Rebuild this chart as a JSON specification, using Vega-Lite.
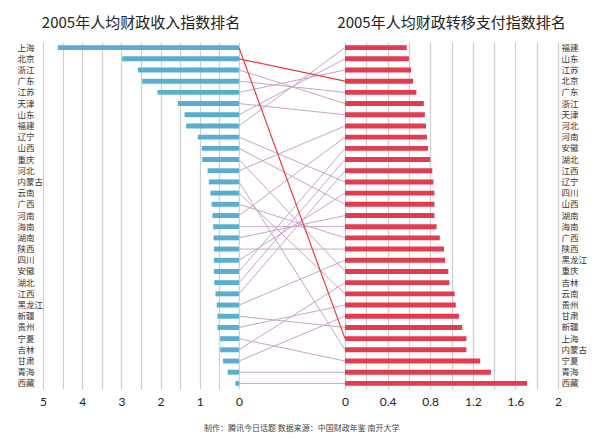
{
  "$schema": "https://vega.github.io/schema/vega-lite/v6.json",
  "padding": {"left": 17, "top": 16, "right": 5, "bottom": 5},
  "background": "white",
  "config": {
    "view": {"stroke": null},
    "font": "Noto Sans CJK SC",
    "axis": {"labelFont": "Noto Sans CJK SC", "labelColor": "#333"}
  },
  "data": {
    "values": [
      {"p": "上海", "a": 4.62, "b": 1.14, "r1": 1, "r2": 27},
      {"p": "北京", "a": 2.98, "b": 0.64, "r1": 2, "r2": 4},
      {"p": "浙江", "a": 2.58, "b": 0.74, "r1": 3, "r2": 6},
      {"p": "广东", "a": 2.47, "b": 0.67, "r1": 4, "r2": 5},
      {"p": "江苏", "a": 2.08, "b": 0.62, "r1": 5, "r2": 3},
      {"p": "天津", "a": 1.56, "b": 0.75, "r1": 6, "r2": 7},
      {"p": "山东", "a": 1.39, "b": 0.60, "r1": 7, "r2": 2},
      {"p": "福建", "a": 1.35, "b": 0.58, "r1": 8, "r2": 1},
      {"p": "辽宁", "a": 1.05, "b": 0.83, "r1": 9, "r2": 13},
      {"p": "山西", "a": 0.95, "b": 0.84, "r1": 10, "r2": 15},
      {"p": "重庆", "a": 0.94, "b": 0.97, "r1": 11, "r2": 21},
      {"p": "河北", "a": 0.80, "b": 0.76, "r1": 12, "r2": 8},
      {"p": "内蒙古", "a": 0.77, "b": 1.14, "r1": 13, "r2": 28},
      {"p": "云南", "a": 0.73, "b": 1.03, "r1": 14, "r2": 23},
      {"p": "广西", "a": 0.70, "b": 0.89, "r1": 15, "r2": 18},
      {"p": "河南", "a": 0.68, "b": 0.77, "r1": 16, "r2": 9},
      {"p": "海南", "a": 0.66, "b": 0.86, "r1": 17, "r2": 17},
      {"p": "湖南", "a": 0.65, "b": 0.84, "r1": 18, "r2": 16},
      {"p": "陕西", "a": 0.64, "b": 0.93, "r1": 19, "r2": 19},
      {"p": "四川", "a": 0.64, "b": 0.84, "r1": 20, "r2": 14},
      {"p": "安徽", "a": 0.64, "b": 0.78, "r1": 21, "r2": 10},
      {"p": "湖北", "a": 0.63, "b": 0.80, "r1": 22, "r2": 11},
      {"p": "江西", "a": 0.60, "b": 0.82, "r1": 23, "r2": 12},
      {"p": "黑龙江", "a": 0.57, "b": 0.94, "r1": 24, "r2": 20},
      {"p": "新疆", "a": 0.55, "b": 1.10, "r1": 25, "r2": 26},
      {"p": "贵州", "a": 0.55, "b": 1.04, "r1": 26, "r2": 24},
      {"p": "宁夏", "a": 0.48, "b": 1.27, "r1": 27, "r2": 29},
      {"p": "吉林", "a": 0.48, "b": 0.98, "r1": 28, "r2": 22},
      {"p": "甘肃", "a": 0.41, "b": 1.07, "r1": 29, "r2": 25},
      {"p": "青海", "a": 0.29, "b": 1.37, "r1": 30, "r2": 30},
      {"p": "西藏", "a": 0.09, "b": 1.71, "r1": 31, "r2": 31}
    ]
  },
  "title": {
    "text": "制作：腾讯今日话题 数据来源：中国财政年鉴 南开大学",
    "orient": "bottom",
    "anchor": "middle",
    "fontSize": 8,
    "fontWeight": "normal",
    "color": "#444",
    "offset": 18
  },
  "bounds": "flush",
  "spacing": 0,
  "hconcat": [
    {
      "width": 196,
      "height": 347,
      "title": {"text": "2005年人均财政收入指数排名", "fontSize": 15, "fontWeight": "normal", "color": "#222", "offset": 11},
      "mark": {"type": "bar", "color": "#5aadd0"},
      "encoding": {
        "y": {
          "field": "p", "type": "nominal",
          "sort": {"field": "r1", "op": "min", "order": "ascending"},
          "scale": {"paddingInner": 0.56, "paddingOuter": 0.28},
          "axis": {"title": null, "orient": "left", "labelAlign": "left", "labelPadding": 26, "ticks": false, "domain": false, "labelFontSize": 8.5}
        },
        "x": {
          "field": "a", "type": "quantitative",
          "scale": {"domain": [0, 5], "reverse": true, "nice": false},
          "axis": {
            "title": null,
            "values": [0, 0.5, 1, 1.5, 2, 2.5, 3, 3.5, 4, 4.5, 5],
            "labelExpr": "datum.value % 1 === 0 ? format(datum.value, 'd') : ''",
            "grid": true, "gridColor": "#cfcfcf", "gridWidth": 1.2,
            "ticks": false, "domain": false, "labelPadding": 7, "labelFontSize": 12,
            "labelFlush": false,
            "labelFont": "Lato", "labelColor": "#222"
          }
        }
      }
    },
    {
      "width": 106,
      "height": 347,
      "encoding": {
        "x": {"datum": 0, "type": "quantitative", "scale": {"domain": [0, 1], "nice": false}, "axis": null},
        "x2": {"datum": 1},
        "y": {"field": "r1", "type": "quantitative", "scale": {"domain": [0.5, 31.5], "reverse": true, "nice": false, "zero": false}, "axis": null},
        "y2": {"field": "r2"}
      },
      "layer": [
        {
          "transform": [{"filter": "datum.p !== '上海' && datum.p !== '北京'"}],
          "mark": {"type": "rule", "color": "#c9a3c9", "strokeWidth": 1}
        },
        {
          "transform": [{"filter": "datum.p === '上海' || datum.p === '北京'"}],
          "mark": {"type": "rule", "color": "#f03a3a", "strokeWidth": 1.2}
        }
      ]
    },
    {
      "width": 213,
      "height": 347,
      "title": {"text": "2005年人均财政转移支付指数排名", "fontSize": 15, "fontWeight": "normal", "color": "#222", "offset": 11},
      "mark": {"type": "bar", "color": "#e23b52"},
      "encoding": {
        "y": {
          "field": "p", "type": "nominal",
          "sort": {"field": "r2", "op": "min", "order": "ascending"},
          "scale": {"paddingInner": 0.56, "paddingOuter": 0.28},
          "axis": {"title": null, "orient": "right", "labelAlign": "left", "labelPadding": 3, "ticks": false, "domain": false, "labelFontSize": 8.5}
        },
        "x": {
          "field": "b", "type": "quantitative",
          "scale": {"domain": [0, 2], "nice": false},
          "axis": {
            "title": null,
            "values": [0, 0.2, 0.4, 0.6, 0.8, 1, 1.2, 1.4, 1.6, 1.8, 2],
            "labelExpr": "round(datum.value * 10) % 4 === 0 ? format(datum.value, '~g') : ''",
            "grid": true, "gridColor": "#cfcfcf", "gridWidth": 1.2,
            "ticks": false, "domain": false, "labelPadding": 7, "labelFontSize": 12,
            "labelFlush": false,
            "labelFont": "Lato", "labelColor": "#222"
          }
        }
      }
    }
  ]
}
